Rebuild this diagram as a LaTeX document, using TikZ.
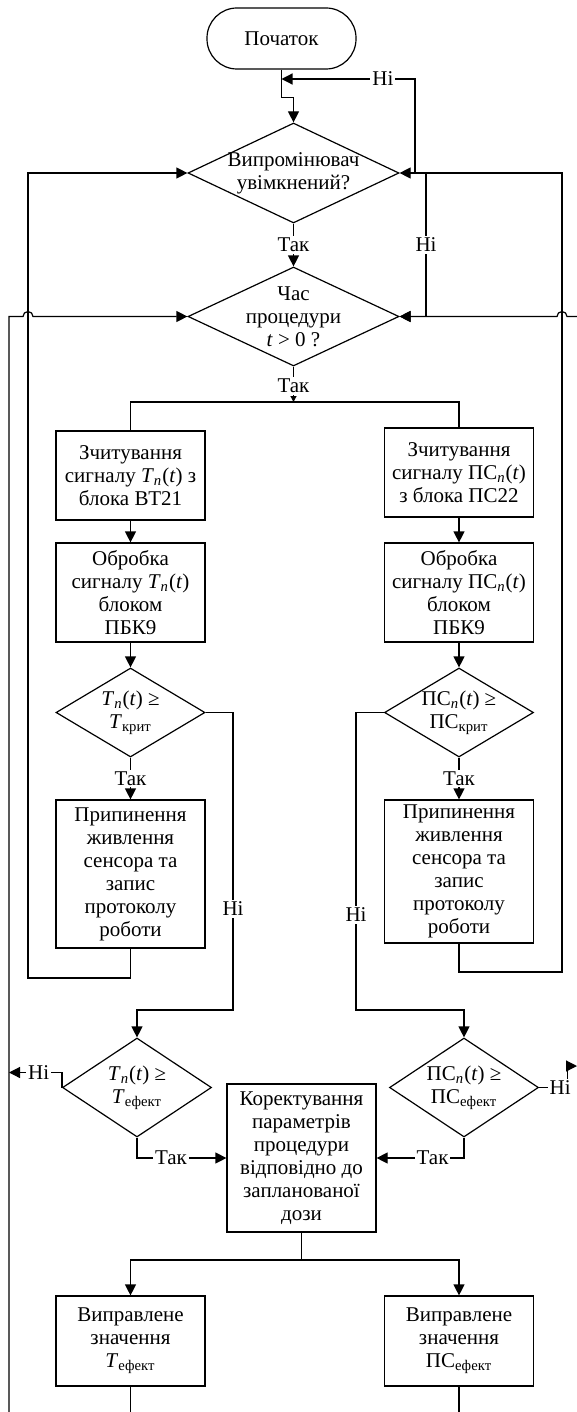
\documentclass[tikz,border=0pt]{standalone}
\usepackage{fontspec}
\setmainfont{Liberation Serif}
\usetikzlibrary{shapes.geometric,arrows.meta}
\newcommand\Tn{\textit{T}\textsubscript{\textit{n}}(\textit{t})}
\newcommand\PSn{ПС\textsubscript{\textit{n}}(\textit{t})}
\begin{document}
\begin{tikzpicture}[x=0.5pt,y=-0.5pt,line width=0.6pt,>={Triangle[length=5.5pt,width=5.5pt]},
	font=\fontsize{10.5}{11.5}\selectfont]
	\tikzset{blok/.style={draw,rectangle,minimum width=74.5pt,align=center,inner sep=1pt},
		term/.style={draw,rectangle,rounded corners=15pt,minimum width=74.5pt,minimum height=30.5pt},
		dec/.style={draw,diamond,inner sep=0pt,minimum width=74.5pt},
		dtxt/.style={align=center,inner sep=0pt},
		lbl/.style={fill=white,inner sep=1pt}}
	\useasboundingbox (0,0) rectangle (577,1412);
	% blocks
	\node[term] (start) at (281.5,38.5) {Початок};
	\node[dec,minimum width=105.5pt,minimum height=50pt] (d1) at (293.5,173) {};
	\node[dtxt] (d1t) at (d1) {Випромінювач\\увімкнений?};
	\node[dec,minimum width=105.5pt,minimum height=49.5pt] (d2) at (293.5,316.5) {};
	\node[dtxt] (d2t) at (d2) {Час\\процедури\\\textit{t} > 0 ?};
	\node[blok,minimum height=44.5pt] (zl) at (130.5,475.5) {Зчитування\\сигналу \Tn{} з\\блока ВТ21};
	\node[blok,minimum height=44.5pt] (zr) at (459,472.5) {Зчитування\\сигналу \PSn\\з блока ПС22};
	\node[blok,minimum height=49.5pt] (obl) at (130.5,592.5) {Обробка\\сигналу \Tn\\блоком\\ПБК9};
	\node[blok,minimum height=49.5pt] (obr) at (459,592.5) {Обробка\\сигналу \PSn\\блоком\\ПБК9};
	\node[dec,minimum height=44.5pt] (kl) at (130.5,712.5) {};
	\node[dtxt] (klt) at (kl) {\Tn{} ≥\\\textit{T}\textsubscript{крит}};
	\node[dec,minimum height=44.5pt] (kr) at (459,712.5) {};
	\node[dtxt] (krt) at (kr) {\PSn{} ≥\\ПС\textsubscript{крит}};
	\node[blok,minimum height=74pt] (prl) at (130.5,874) {Припинення\\живлення\\сенсора та\\запис\\протоколу\\роботи};
	\node[blok,minimum height=71.5pt] (prr) at (459,871.5) {Припинення\\живлення\\сенсора та\\запис\\протоколу\\роботи};
	\node[dec,minimum height=49.5pt] (d5l) at (137,1087.5) {};
	\node[dtxt] (d5lt) at (d5l) {\Tn{} ≥\\\textit{T}\textsubscript{ефект}};
	\node[dec,minimum height=49.5pt] (d6r) at (464,1087.5) {};
	\node[dtxt] (d6rt) at (d6r) {\PSn{} ≥\\ПС\textsubscript{ефект}};
	\node[blok,minimum height=74pt] (kor) at (301.5,1158) {Коректування\\параметрів\\процедури\\відповідно до\\запланованої\\дози};
	\node[blok,minimum height=45pt] (vl) at (130.5,1341) {Виправлене\\значення\\\textit{T}\textsubscript{ефект}};
	\node[blok,minimum height=45pt] (vr) at (459,1341) {Виправлене\\значення\\ПС\textsubscript{ефект}};
	% corner points
	\coordinate (jt) at (415,173);
	\coordinate (jn) at (281.5,79);
	\coordinate (jd) at (426,173);
	\coordinate (sp) at (293.5,402);
	\coordinate (lp) at (28,978);
	\coordinate (rp) at (562,972);
	\coordinate (nl) at (233,1010);
	\coordinate (nr) at (356,1010);
	\coordinate (lb) at (9,1412);
	\coordinate (re) at (577,316.5);
	\coordinate (ln) at (9,1072.5);
	\coordinate (rn) at (577,1066);
	\coordinate (sp2) at (301.5,1260);
	\coordinate (bl) at (130.5,1412);
	\coordinate (br) at (459,1412);
	% connectors
	\draw[->] (start.south) -- ++(0,28) -| (d1.north);
	\draw[->] (jt) |- node[lbl,pos=0.62]{Ні} (jn);
	\draw[->] (d1.south) -- node[lbl]{Так} (d2.north);
	\draw[->] (jd) -- node[lbl]{Ні} (jd |- d2.east) -- (d2.east);
	\draw[->] (re) -- (567,316.5) arc[start angle=0,end angle=180,radius=2.5pt] -- (d2.east);
	\draw[->] (lb) -- (9,316.5) -- (23,316.5) arc[start angle=180,end angle=0,radius=2.5pt] -- (d2.west);
	\draw[-{Triangle[length=3pt,width=3pt]}] (d2.south) -- node[lbl,pos=0.55]{Так} (sp);
	\draw (sp) -| (zl.north);
	\draw (sp) -| (zr.north);
	\draw[->] (zl) -- (obl);
	\draw[->] (zr) -- (obr);
	\draw[->] (obl) -- (kl);
	\draw[->] (obr) -- (kr);
	\draw[->] (kl) -- node[lbl]{Так} (prl);
	\draw[->] (kr) -- node[lbl]{Так} (prr);
	\draw[->] (prl.south) |- (lp) |- (d1.west);
	\draw[->] (prr.south) |- (rp) |- (d1.east);
	\draw[->] (kl.east) -| node[lbl,pos=0.83]{Ні} (nl) -| (d5l.north);
	\draw[->] (kr.west) -| node[lbl,pos=0.84]{Ні} (nr) -| (d6r.north);
	\draw[->] (d5l.west) |- node[lbl,pos=0.72]{Ні} (ln);
	\draw[->] (d6r.east) -- node[lbl,pos=0.75]{Ні} ++(28,0) |- (rn);
	\draw[->] (d5l.south) |- node[lbl,pos=0.69]{Так} (kor.west);
	\draw[->] (d6r.south) |- node[lbl,pos=0.68]{Так} (kor.east);
	\draw (kor.south) -- (sp2);
	\draw[->] (sp2) -| (vl.north);
	\draw[->] (sp2) -| (vr.north);
	\draw (vl.south) -- (bl);
	\draw (vr.south) -- (br);
\end{tikzpicture}
\end{document}
